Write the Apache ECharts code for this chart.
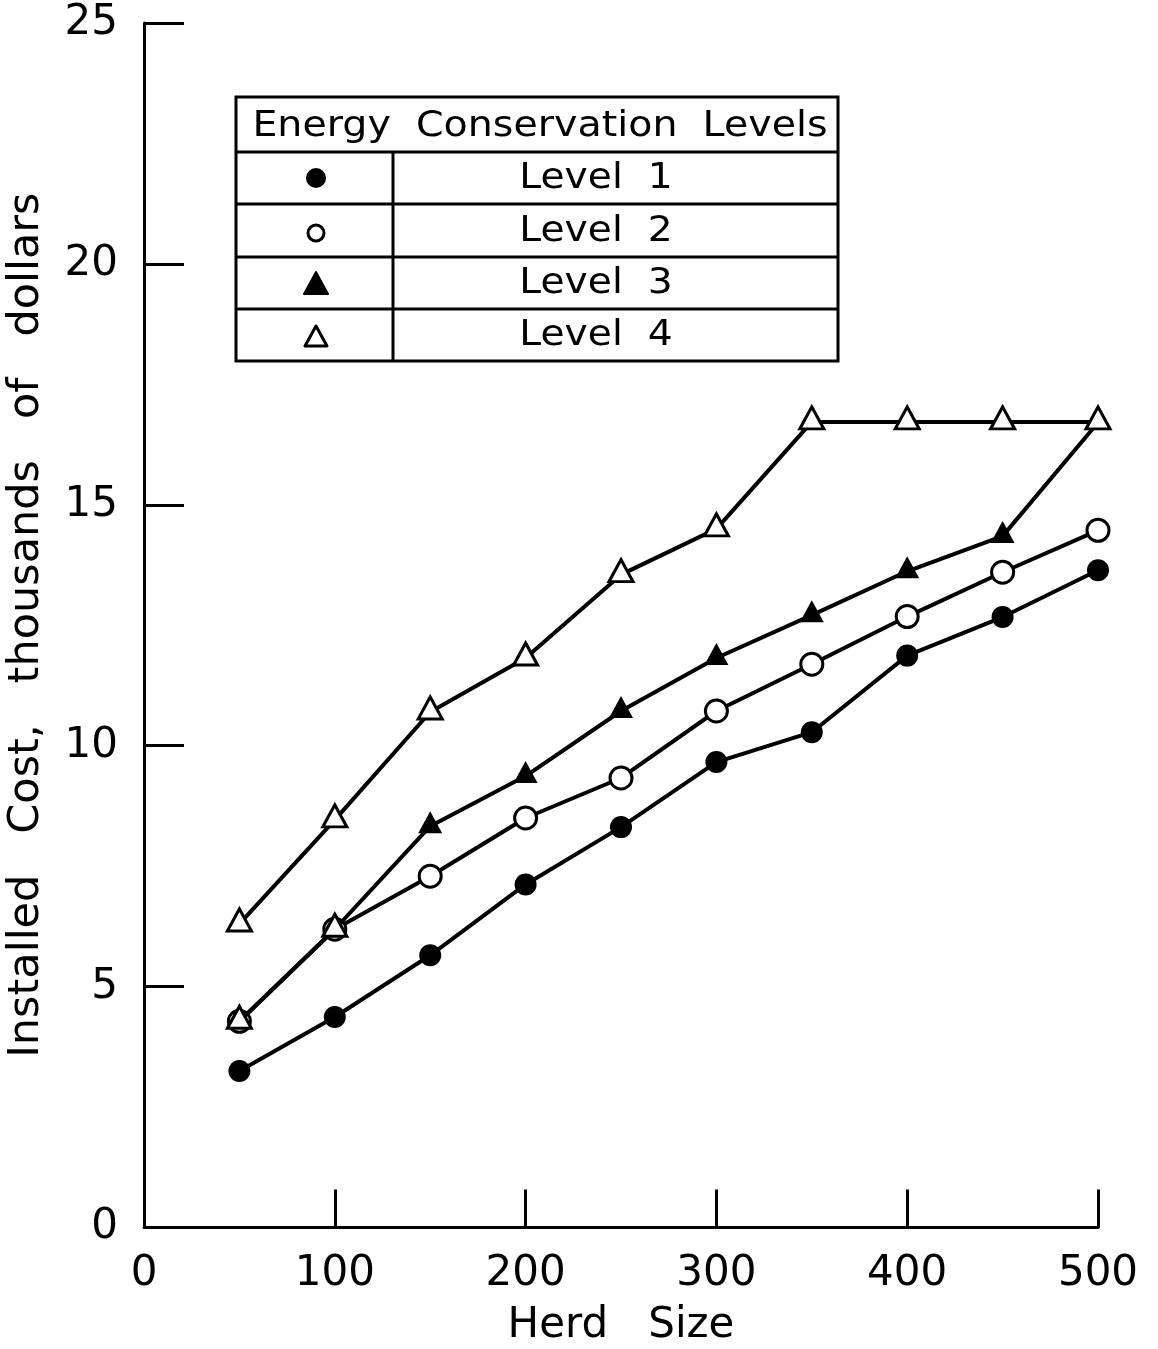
<!DOCTYPE html>
<html>
<head>
<meta charset="utf-8">
<script src="https://cdn.jsdelivr.net/npm/echarts@6/dist/echarts.min.js"></script>
<style>
  html, body { margin: 0; padding: 0; background: #fff; }
  #chart { width: 1158px; height: 1349px; }
</style>
</head>
<body>
<div id="chart"></div>
<script>
// Herd sizes on the horizontal axis
const herdSizes = [50, 100, 150, 200, 250, 300, 350, 400, 450, 500];

// Installed cost (thousands of dollars) per energy conservation level
const level1 = [3.25, 4.37, 5.65, 7.12, 8.31, 9.66, 10.28, 11.87, 12.67, 13.64];
const level2 = [4.28, 6.19, 7.29, 8.50, 9.33, 10.72, 11.69, 12.68, 13.60, 14.47];
const level3 = [4.28, 6.19, 8.33, 9.37, 10.72, 11.82, 12.71, 13.62, 14.35, 16.71];
const level4 = [6.30, 8.46, 10.70, 11.82, 13.55, 14.50, 16.72, 16.72, 16.72, 16.72];

const levelNames = ['Level  1', 'Level  2', 'Level  3', 'Level  4'];

const FONT = '"DejaVu Sans", sans-serif';
const INK = '#000';

function pairs(values) {
  return herdSizes.map((x, i) => [x, values[i]]);
}

function lineSeries(name, values, symbol, filled, z) {
  const isTri = symbol === 'triangle';
  return {
    name: name,
    type: 'line',
    data: pairs(values),
    symbol: symbol,
    symbolSize: isTri ? [24, 22] : 22,
    symbolOffset: isTri ? [0, -4] : [0, 0],
    showSymbol: true,
    z: z,
    lineStyle: { color: INK, width: 4 },
    itemStyle: {
      color: filled ? INK : '#fff',
      borderColor: INK,
      borderWidth: filled ? 0 : 3
    },
    emphasis: { disabled: true },
    animation: false
  };
}

// Level 3 shares its first two points with level 2; there the triangle is drawn hollow.
const level3Series = lineSeries(levelNames[2], level3, 'triangle', true, 3);
level3Series.data = level3Series.data.map((p, i) => i < 2
  ? { value: p, itemStyle: { color: '#fff', borderColor: INK, borderWidth: 3 } }
  : p);

// Legend table geometry
const tbl = { x0: 236, x1: 838, y0: 97, yHead: 152, rows: [152, 204, 257, 309, 361], xDiv: 393 };
const legendGraphics = [];
legendGraphics.push({
  type: 'rect', shape: { x: tbl.x0, y: tbl.y0, width: tbl.x1 - tbl.x0, height: tbl.rows[4] - tbl.y0 },
  style: { fill: '#fff', stroke: INK, lineWidth: 3 }, z: 10
});
[1, 2, 3, 0].forEach(k => {
  legendGraphics.push({
    type: 'line', shape: { x1: tbl.x0, y1: tbl.rows[k], x2: tbl.x1, y2: tbl.rows[k] },
    style: { stroke: INK, lineWidth: 3 }, z: 11
  });
});
legendGraphics.push({
  type: 'line', shape: { x1: tbl.xDiv, y1: tbl.yHead, x2: tbl.xDiv, y2: tbl.rows[4] },
  style: { stroke: INK, lineWidth: 3 }, z: 11
});
legendGraphics.push({
  type: 'text', x: 540, y: (tbl.y0 + tbl.yHead) / 2 + 2, scaleX: 1.13,
  style: { text: 'Energy  Conservation  Levels', font: '35px ' + FONT, fill: INK, align: 'center', verticalAlign: 'middle' },
  z: 12
});
const symX = 316;
levelNames.forEach((name, i) => {
  const cy = (tbl.rows[i] + tbl.rows[i + 1]) / 2;
  legendGraphics.push({
    type: 'text', x: 596, y: cy + 1, scaleX: 1.12,
    style: { text: name, font: '35px ' + FONT, fill: INK, align: 'center', verticalAlign: 'middle' },
    z: 12
  });
});
legendGraphics.push({ type: 'circle', shape: { cx: symX, cy: 178, r: 10 }, style: { fill: INK }, z: 12 });
legendGraphics.push({ type: 'circle', shape: { cx: symX, cy: 233, r: 8 }, style: { fill: '#fff', stroke: INK, lineWidth: 3 }, z: 12 });
legendGraphics.push({ type: 'polygon', shape: { points: [[symX, 272], [symX + 12, 294], [symX - 12, 294]] }, style: { fill: INK, stroke: INK, lineWidth: 2, lineJoin: 'round' }, z: 12 });
legendGraphics.push({ type: 'polygon', shape: { points: [[symX, 326], [symX + 11, 346], [symX - 11, 346]] }, style: { fill: '#fff', stroke: INK, lineWidth: 3, lineJoin: 'round' }, z: 12 });

const chart = echarts.init(document.getElementById('chart'), null, { renderer: 'canvas' });
chart.setOption({
  backgroundColor: '#fff',
  animation: false,
  grid: { left: 144, right: 60, top: 23, bottom: 121.5, containLabel: false, outerBoundsMode: 'none' },
  xAxis: {
    type: 'value', min: 0, max: 500, interval: 100,
    name: 'Herd   Size', nameLocation: 'middle', nameGap: 78,
    nameTextStyle: { fontFamily: FONT, fontSize: 42, color: INK },
    axisLine: { show: true, onZero: false, lineStyle: { color: INK, width: 3 } },
    axisTick: { show: true, inside: true, length: 38, lineStyle: { color: INK, width: 3 } },
    axisLabel: { margin: 26, fontFamily: FONT, fontSize: 42, color: INK },
    splitLine: { show: false }
  },
  yAxis: {
    type: 'value', min: 0, max: 25, interval: 5,
    name: 'Installed   Cost,   thousands   of   dollars', nameLocation: 'middle', nameGap: 96,
    nameTextStyle: { fontFamily: FONT, fontSize: 43, color: INK },
    axisLine: { show: true, onZero: false, lineStyle: { color: INK, width: 3 } },
    axisTick: { show: true, inside: true, length: 40, lineStyle: { color: INK, width: 3 } },
    axisLabel: { margin: 26, fontFamily: FONT, fontSize: 42, color: INK },
    splitLine: { show: false }
  },
  series: [
    lineSeries(levelNames[0], level1, 'circle', true, 2),
    lineSeries(levelNames[1], level2, 'circle', false, 2),
    level3Series,
    lineSeries(levelNames[3], level4, 'triangle', false, 4)
  ],
  graphic: legendGraphics
});
</script>
</body>
</html>
